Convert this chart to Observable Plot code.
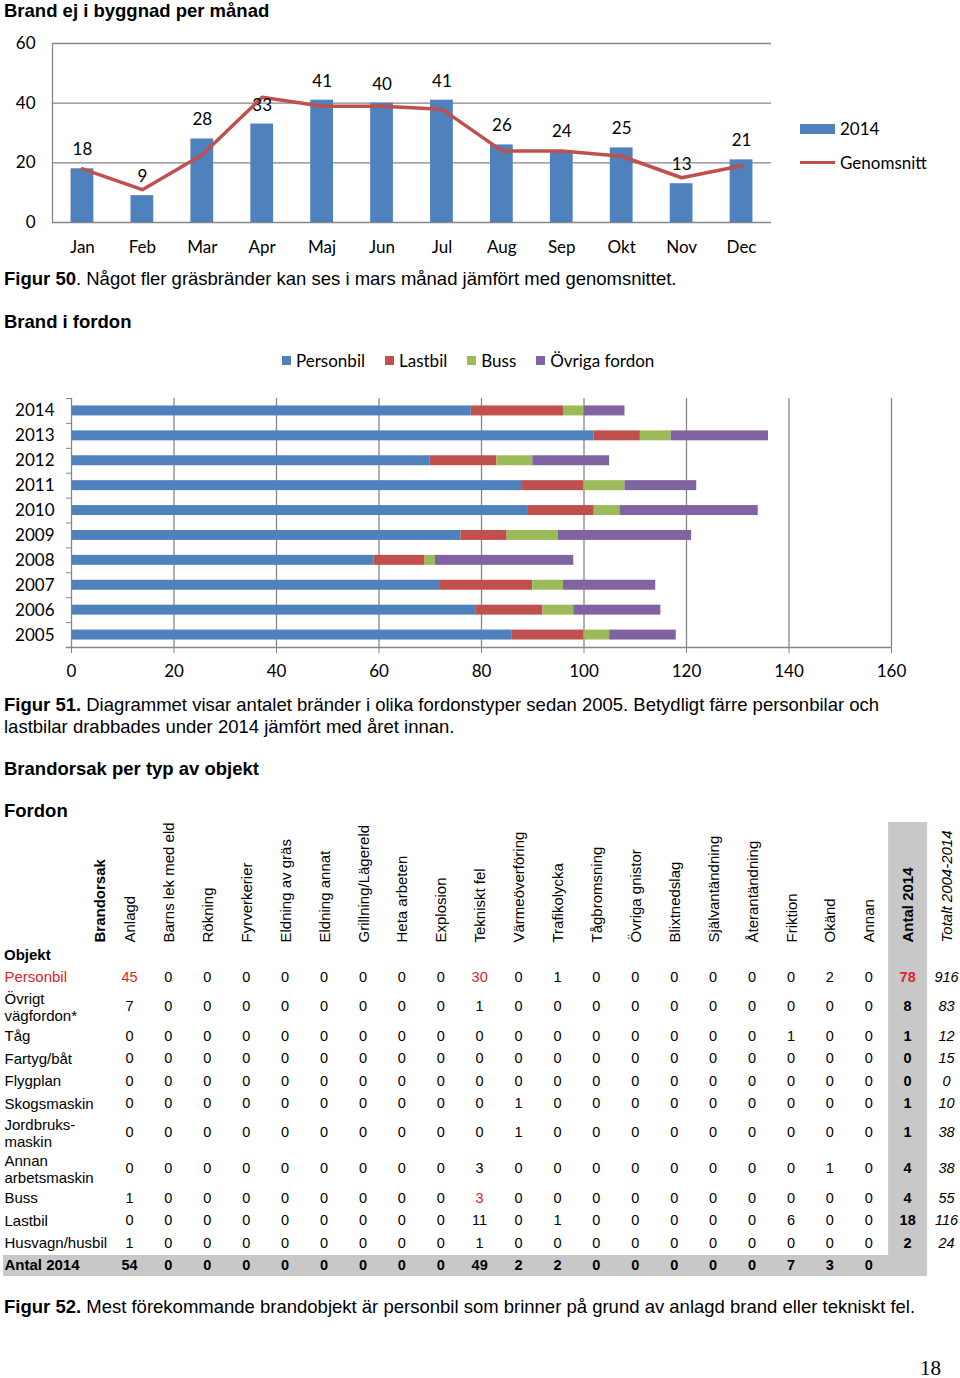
<!DOCTYPE html>
<html>
<head>
<meta charset="utf-8">
<script src="https://cdn.jsdelivr.net/npm/d3@7"></script>
<script src="https://cdn.jsdelivr.net/npm/@observablehq/plot@0.6"></script>
<style>
  html, body { margin: 0; padding: 0; background: #fff; }
  body { width: 960px; height: 1378px; position: relative; overflow: hidden; font-family: "Liberation Sans", Arial, sans-serif; color: #000; }
  .abs { position: absolute; white-space: nowrap; }
  .chart { position: absolute; left: 0; width: 960px; }
  .chart svg { display: block; max-width: none !important; overflow: visible; }
  .h { font-weight: bold; font-size: 18.5px; line-height: 20px; left: 4px; }
  .cap { font-size: 18.5px; line-height: 22px; left: 4px; }
  .leg { font-family: Lato, "Open Sans", sans-serif; font-size: 17px; display: flex; align-items: center; }
  .sw { display: inline-block; width: 9px; height: 9px; margin-right: 5px; }
</style>
</head>
<body>
<div class="abs h" style="top:1px;">Brand ej i byggnad per månad</div>
<div id="c1" class="chart" style="top:25px;"></div>
<div class="abs leg" style="top:118px;left:800px;"><span style="display:inline-block;width:35px;height:10px;background:#4F81BD;margin-right:5px;"></span>2014</div>
<div class="abs leg" style="top:152px;left:800px;"><span style="display:inline-block;width:35px;height:3.5px;background:#C0504D;margin-right:5px;"></span>Genomsnitt</div>
<div class="abs cap" style="top:268px;"><b>Figur 50</b>. Något fler gräsbränder kan ses i mars månad jämfört med genomsnittet.</div>

<div class="abs h" style="top:312px;">Brand i fordon</div>
<div id="leg2" class="abs leg" style="top:350px;left:282px;"></div>
<div id="c2" class="chart" style="top:385px;"></div>
<div class="abs cap" style="top:694px;"><b>Figur 51.</b> Diagrammet visar antalet bränder i olika fordonstyper sedan 2005. Betydligt färre personbilar och<br>lastbilar drabbades under 2014 jämfört med året innan.</div>

<div class="abs h" style="top:759px;">Brandorsak per typ av objekt</div>
<div class="abs h" style="top:801px;">Fordon</div>
<div id="c3" class="chart" style="top:815px;"></div>
<div class="abs" style="top:946px;left:4px;font-weight:bold;font-size:15px;line-height:18px;">Objekt</div>
<div class="abs cap" style="top:1296px;"><b>Figur 52.</b> Mest förekommande brandobjekt är personbil som brinner på grund av anlagd brand eller tekniskt fel.</div>
<div class="abs" style="top:1355px;left:920px;font-family:'Liberation Serif','Times New Roman',serif;font-size:21px;line-height:26px;">18</div>

<script>
// ---------- Chart 1 data ----------
const months = ["Jan","Feb","Mar","Apr","Maj","Jun","Jul","Aug","Sep","Okt","Nov","Dec"];
const values2014 = [18, 9, 28, 33, 41, 40, 41, 26, 24, 25, 13, 21];
const genomsnitt = [18, 11, 22.7, 42, 39, 39, 38, 24, 24, 22.2, 15, 19];
const yTicks1 = [0, 20, 40, 60];

// ---------- Chart 2 data ----------
const years = ["2014","2013","2012","2011","2010","2009","2008","2007","2006","2005"];
const vehicleTypes = ["Personbil","Lastbil","Buss","Övriga fordon"];
const vehicleColors = ["#4F81BD","#C0504D","#9BBB59","#8064A2"];
const personbil = [78, 102, 70, 88, 89, 76, 59, 72, 79, 86];
const lastbil   = [18, 9, 13, 12, 13, 9, 10, 18, 13, 14];
const buss      = [4, 6, 7, 8, 5, 10, 2, 6, 6, 5];
const ovriga    = [8, 19, 15, 14, 27, 26, 27, 18, 17, 13];
const xTicks2 = [0, 20, 40, 60, 80, 100, 120, 140, 160];

// ---------- Table data ----------
const causes = ["Anlagd","Barns lek med eld","Rökning","Fyrverkerier","Eldning av gräs","Eldning annat","Grillning/Lägereld","Heta arbeten","Explosion","Tekniskt fel","Värmeöverföring","Trafikolycka","Tågbromsning","Övriga gnistor","Blixtnedslag","Självantändning","Återantändning","Friktion","Okänd","Annan"];
const objects = ["Personbil","Övrigt\nvägfordon*","Tåg","Fartyg/båt","Flygplan","Skogsmaskin","Jordbruks-\nmaskin","Annan\narbetsmaskin","Buss","Lastbil","Husvagn/husbil"];
const rowPersonbil   = [45,0,0,0,0,0,0,0,0,30,0,1,0,0,0,0,0,0,2,0];
const rowOvrigt      = [7,0,0,0,0,0,0,0,0,1,0,0,0,0,0,0,0,0,0,0];
const rowTag         = [0,0,0,0,0,0,0,0,0,0,0,0,0,0,0,0,0,1,0,0];
const rowFartyg      = [0,0,0,0,0,0,0,0,0,0,0,0,0,0,0,0,0,0,0,0];
const rowFlygplan    = [0,0,0,0,0,0,0,0,0,0,0,0,0,0,0,0,0,0,0,0];
const rowSkog        = [0,0,0,0,0,0,0,0,0,0,1,0,0,0,0,0,0,0,0,0];
const rowJordbruk    = [0,0,0,0,0,0,0,0,0,0,1,0,0,0,0,0,0,0,0,0];
const rowArbetsmask  = [0,0,0,0,0,0,0,0,0,3,0,0,0,0,0,0,0,0,1,0];
const rowBuss        = [1,0,0,0,0,0,0,0,0,3,0,0,0,0,0,0,0,0,0,0];
const rowLastbil     = [0,0,0,0,0,0,0,0,0,11,0,1,0,0,0,0,0,6,0,0];
const rowHusvagn     = [1,0,0,0,0,0,0,0,0,1,0,0,0,0,0,0,0,0,0,0];
const antal2014Col   = [78, 8, 1, 0, 0, 1, 1, 4, 4, 18, 2];
const totalt0414Col  = [916, 83, 12, 15, 0, 10, 38, 38, 55, 116, 24];
const antal2014Row   = [54,0,0,0,0,0,0,0,0,49,2,2,0,0,0,0,0,7,3,0];
const redCells = [["Personbil","Anlagd"],["Personbil","Tekniskt fel"],["Personbil","Antal 2014"],["Buss","Tekniskt fel"]];

// ---------- Chart 1 ----------
const grid = "#868686";
const calFont = "Lato, 'Open Sans', sans-serif";
const d1 = months.map((m, i) => ({month: m, v: values2014[i], avg: genomsnitt[i]}));
const c1 = Plot.plot({
  width: 960, height: 240,
  marginLeft: 52, marginRight: 189, marginTop: 18, marginBottom: 43,
  style: {fontFamily: calFont, fontSize: "17px", color: "#000", background: "transparent", overflow: "visible"},
  x: {domain: months, paddingInner: 0.62, paddingOuter: 0.31, round: false, label: null},
  y: {domain: [0, 60], label: null},
  marks: [
    Plot.ruleY(yTicks1, {stroke: grid, strokeWidth: 1.3}),
    Plot.ruleX([months[0]], {dx: -(719 / 12) / 2, stroke: grid, strokeWidth: 1.3}),
    Plot.barY(d1, {x: "month", y: "v", fill: "#4F81BD"}),
    Plot.line(d1, {x: "month", y: "avg", stroke: "#C0504D", strokeWidth: 3.5}),
    Plot.text(d1, {x: "month", y: "v", text: d => String(d.v), dy: -19, fill: "#000"}),
    Plot.axisX({tickSize: 0, tickPadding: 18}),
    Plot.axisY({ticks: yTicks1, tickSize: 0, tickPadding: 17})
  ]
});
document.getElementById("c1").appendChild(c1);

// ---------- Chart 2 ----------
const seriesVals = [personbil, lastbil, buss, ovriga];
const d2 = [];
years.forEach((y, i) => vehicleTypes.forEach((t, j) => d2.push({year: y, type: t, value: seriesVals[j][i]})));
const leg2 = document.getElementById("leg2");
vehicleTypes.forEach((t, j) => {
  const s = document.createElement("span");
  s.style.cssText = "display:inline-flex;align-items:center;margin-right:20px;";
  s.innerHTML = `<span class="sw" style="background:${vehicleColors[j]}"></span>${t}`;
  leg2.appendChild(s);
});
const step2 = 24.9;
const c2 = Plot.plot({
  width: 960, height: 300,
  marginLeft: 71, marginRight: 69, marginTop: 13, marginBottom: 38,
  style: {fontFamily: calFont, fontSize: "17px", color: "#000", background: "transparent", overflow: "visible"},
  x: {domain: [0, 160], label: null},
  y: {domain: years, paddingInner: 0.6, paddingOuter: 0.3, round: false, label: null},
  color: {domain: vehicleTypes, range: vehicleColors},
  marks: [
    Plot.ruleX(xTicks2.slice(1), {stroke: grid, strokeWidth: 1.3}),
    Plot.barX(d2, {x: "value", y: "year", fill: "type"}),
    Plot.ruleX([0], {stroke: grid, strokeWidth: 1.3}),
    Plot.ruleY([years[years.length - 1]], {dy: step2 / 2, x1: -1, x2: 160, stroke: grid, strokeWidth: 1.3}),
    Plot.axisX({ticks: xTicks2, tickSize: 6, tickPadding: 11, stroke: grid, fill: "#000"}),
    Plot.axisY({tickSize: 0, tickPadding: 17}),
    Plot.axisY({tickSize: 5, tickFormat: () => "", dy: -step2 / 2, stroke: grid})
  ]
});
document.getElementById("c2").appendChild(c2);

// ---------- Table ----------
const rowsAll = [...objects, "Antal 2014"];
const columns = [...causes, "Antal 2014", "Totalt 2004-2014"];
const rowData = [rowPersonbil, rowOvrigt, rowTag, rowFartyg, rowFlygplan, rowSkog, rowJordbruk, rowArbetsmask, rowBuss, rowLastbil, rowHusvagn];
// row heights follow the number of label lines (two-line labels get taller rows)
const rowUnits = rowsAll.map(r => r.split("\n").length > 1 ? 1.6 : 1);
const rowCenter = new Map();
let acc = 0;
rowsAll.forEach((r, i) => { rowCenter.set(r, acc + rowUnits[i] / 2); acc += rowUnits[i]; });
const totalUnits = acc;
const isRed = (o, c) => redCells.some(([ro, rc]) => ro === o && rc === c);
const cells = [];
objects.forEach((o, i) => {
  causes.forEach((c, j) => cells.push({obj: o, col: c, v: rowData[i][j], kind: isRed(o, c) ? "red" : "plain"}));
  cells.push({obj: o, col: "Antal 2014", v: antal2014Col[i], kind: isRed(o, "Antal 2014") ? "boldred" : "bold"});
  cells.push({obj: o, col: "Totalt 2004-2014", v: totalt0414Col[i], kind: "italic"});
});
causes.forEach((c, j) => cells.push({obj: "Antal 2014", col: c, v: antal2014Row[j], kind: "bold"}));

const red = "#D9252B";
const gray = "#C8C8C8";
const tfont = {fontSize: 14.5};
const hdr = {frameAnchor: "top", dx: -5, dy: 120, rotate: -90, textAnchor: "start", fontSize: 15};
const rowY = d => rowCenter.get(d);
const cellY = d => rowCenter.get(d.obj);
const c3 = Plot.plot({
  width: 960, height: 470,
  marginLeft: 3, marginRight: 33, marginTop: 7, marginBottom: 11,
  style: {fontFamily: "'Liberation Sans', Arial, sans-serif", fontSize: "14px", color: "#000", background: "transparent", overflow: "visible"},
  x: {type: "band", domain: columns, range: [109.5, 965.5], padding: 0, round: false, axis: null},
  y: {type: "linear", domain: [0, totalUnits], range: [150.75, 461.25], axis: null},
  marks: [
    Plot.ruleX(["Antal 2014"], {stroke: gray, strokeWidth: 39}),
    Plot.ruleY(["Antal 2014"], {y: rowY, stroke: gray, strokeWidth: 21}),
    Plot.text(causes, {x: d => d, text: d => d, ...hdr}),
    Plot.text(["Antal 2014"], {x: d => d, text: d => d, ...hdr, fontWeight: "bold"}),
    Plot.text(["Totalt 2004-2014"], {x: d => d, text: d => d, ...hdr, fontStyle: "italic"}),
    Plot.text(["Brandorsak"], {text: d => d, frameAnchor: "top-left", dx: 91, dy: 120, rotate: -90, textAnchor: "start", fontSize: 15, fontWeight: "bold"}),
    Plot.text(rowsAll.filter(r => r !== "Personbil" && r !== "Antal 2014"), {y: rowY, text: d => d, frameAnchor: "left", textAnchor: "start", dx: 1, fontSize: 15, lineHeight: 1.13}),
    Plot.text(["Personbil"], {y: rowY, text: d => d, frameAnchor: "left", textAnchor: "start", dx: 1, fontSize: 15, fill: red}),
    Plot.text(["Antal 2014"], {y: rowY, text: d => d, frameAnchor: "left", textAnchor: "start", dx: 1, fontSize: 15, fontWeight: "bold"}),
    Plot.text(cells.filter(d => d.kind === "plain"), {x: "col", y: cellY, text: d => String(d.v), ...tfont}),
    Plot.text(cells.filter(d => d.kind === "red"), {x: "col", y: cellY, text: d => String(d.v), fill: red, ...tfont}),
    Plot.text(cells.filter(d => d.kind === "bold"), {x: "col", y: cellY, text: d => String(d.v), fontWeight: "bold", ...tfont}),
    Plot.text(cells.filter(d => d.kind === "boldred"), {x: "col", y: cellY, text: d => String(d.v), fontWeight: "bold", fill: red, ...tfont}),
    Plot.text(cells.filter(d => d.kind === "italic"), {x: "col", y: cellY, text: d => String(d.v), fontStyle: "italic", ...tfont})
  ]
});
document.getElementById("c3").appendChild(c3);
</script>
</body>
</html>
